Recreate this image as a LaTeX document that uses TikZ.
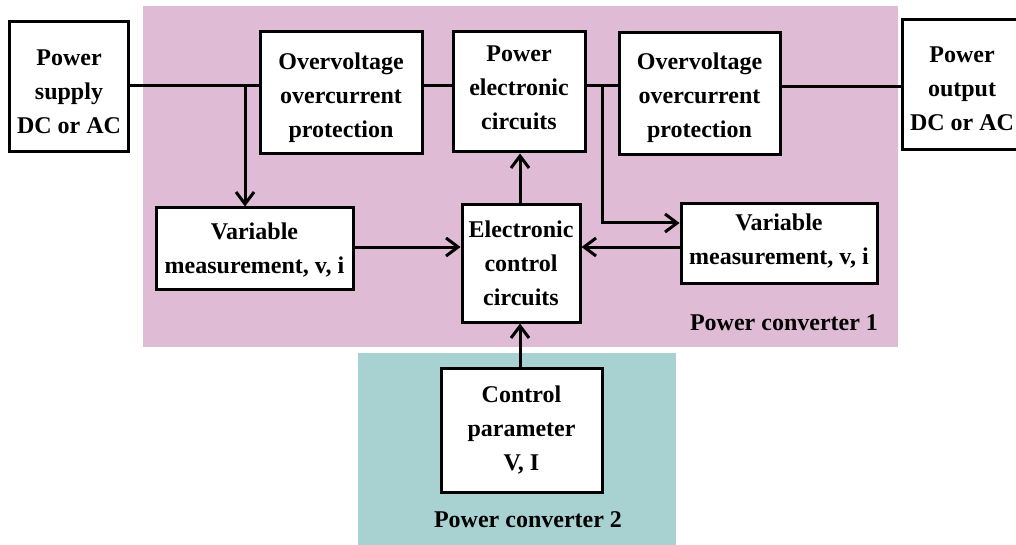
\documentclass[tikz,border=0pt]{standalone}
\usepackage{fontspec}
\setmainfont{Liberation Serif}
\usetikzlibrary{arrows.meta}
\definecolor{pinkbg}{RGB}{224,187,214}
\definecolor{tealbg}{RGB}{168,210,210}
\begin{document}
\begin{tikzpicture}[x=1pt,y=-1pt,
  box/.style={draw=black, line width=3pt, fill=white, inner sep=0pt},
  txt/.style={align=center, inner sep=0pt, font=\fontsize{24}{34}\selectfont\bfseries},
  conn/.style={line width=3pt},
  arr/.style={conn, -{Straight Barb[length=12pt,width=18pt]}},
  lbl/.style={font=\fontsize{24}{30}\selectfont\bfseries, inner sep=0pt}]
\useasboundingbox (0,0) rectangle (1016,545);
% backgrounds
\fill[pinkbg] (143,6) rectangle (898,347);
\fill[tealbg] (358,353) rectangle (676,545);
% boxes
\node[box, minimum width=119, minimum height=130] (ps) at (69,87) {};
\node[box, minimum width=162, minimum height=122] (ov1) at (341,93) {};
\node[box, minimum width=132, minimum height=120] (pec) at (519,92) {};
\node[box, minimum width=161, minimum height=122] (ov2) at (699.5,94) {};
\node[box, minimum width=120, minimum height=130] (po) at (962,85) {};
\node[box, minimum width=197, minimum height=81] (vm1) at (254.5,248.5) {};
\node[box, minimum width=118, minimum height=117] (ecc) at (521,263.5) {};
\node[box, minimum width=196, minimum height=79] (vm2) at (779,243.5) {};
\node[box, minimum width=161, minimum height=124] (cp) at (521.5,430) {};
% box texts
\node[txt, yshift=-5pt] (ps-t) at (ps.center) {Power\\supply\\DC or AC};
\node[txt, yshift=-5pt] (ov1-t) at (ov1.center) {Overvoltage\\overcurrent\\protection};
\node[txt, yshift=4pt] (pec-t) at (pec.center) {Power\\electronic\\circuits};
\node[txt, yshift=-4pt] (ov2-t) at (ov2.center) {Overvoltage\\overcurrent\\protection};
\node[txt, yshift=-4pt] (po-t) at (po.center) {Power\\output\\DC or AC};
\node[txt, yshift=-1.5pt] (vm1-t) at (vm1.center) {Variable\\measurement, v, i};
\node[txt] (ecc-t) at (ecc.center) {Electronic\\control\\circuits};
\node[txt, yshift=2pt] (vm2-t) at (vm2.center) {Variable\\measurement, v, i};
\node[txt] (cp-t) at (cp.center) {Control\\parameter\\V, I};
% labels
\node[lbl] (pc1) at (784,323) {Power converter 1};
\node[lbl] (pc2) at (528,520) {Power converter 2};
% junctions
\coordinate (j1) at (245,86);
\coordinate (j2) at (602,86);
% connectors
\draw[conn] (ps.east |- j1) -- (ov1.west |- j1);
\draw[conn] (ov1.east |- j1) -- (pec.west |- j1);
\draw[conn] (pec.east |- j1) -- (ov2.west |- j1);
\draw[conn] (ov2.east |- 0,87) -- (po.west |- 0,87);
\draw[arr] (j1) -- (j1 |- vm1.north);
\draw[arr] (j2) |- (vm2.west |- 0,223);
\draw[arr] (vm1.east |- 0,247) -- (ecc.west |- 0,247);
\draw[arr] (vm2.west |- 0,247) -- (ecc.east |- 0,247);
\draw[arr] (ecc.north -| 520,0) -- (pec.south -| 520,0);
\draw[arr] (cp.north -| 520,0) -- (ecc.south -| 520,0);
\end{tikzpicture}
\end{document}
